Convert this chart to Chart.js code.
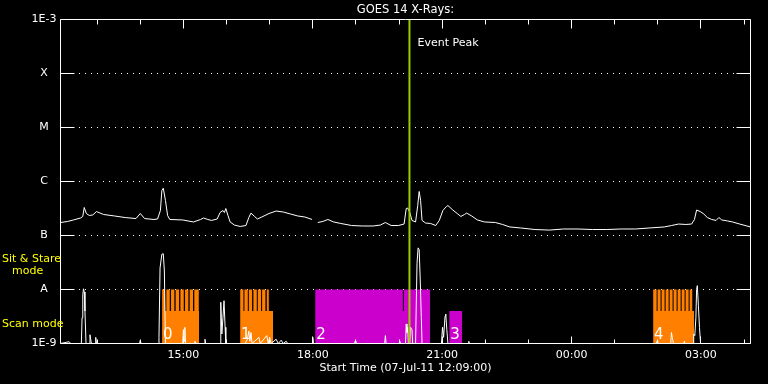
<!DOCTYPE html>
<html><head><meta charset="utf-8">
<script src="https://cdn.jsdelivr.net/npm/chart.js@4.4.1/dist/chart.umd.min.js"></script>
<style>html,body{margin:0;padding:0;background:#000;overflow:hidden}canvas{display:block}</style>
</head><body>
<canvas id="c" width="768" height="384"></canvas>
<script>
// ---- data (time in minutes after start 07-Jul-11 12:09:00, flux in W/m^2) ----
const startClock = 12 * 60 + 9;
const spanMinutes = 960;
const yTickValues = [1e-9, 1e-8, 1e-7, 1e-6, 1e-5, 1e-4, 1e-3];
const yTickLabels = ['1E-9', 'A', 'B', 'C', 'M', 'X', '1E-3'];
const xLabelMinutes = [171, 351, 531, 711, 891];
const eventPeakT = 485.5;

const goesT = [0,10,18,28,31,33,36,40,45,50,55,60,75,90,105,111,117,130,135,139,141,143,146,149,152,170,185,195,199,205,210,218,222,226,228,230,233,236,242,250,258,262,265,270,274,280,290,300,310,320,330,340,350,354,358,365,372,380,390,405,420,435,445,452,460,470,478,481,483,486,489,494,497,499,501,503,508,515,522,527,532,537,539,545,552,557,562,565,572,580,590,605,615,625,640,660,680,700,720,740,760,780,800,820,840,850,860,870,878,882,885,890,895,900,906,912,916,920,928,935,945,955,960];
const goesFlux = [1.74e-7,1.82e-7,1.94e-7,2.11e-7,2.25e-7,3.3e-7,2.55e-7,2.35e-7,2.4e-7,2.78e-7,2.6e-7,2.45e-7,2.3e-7,2.15e-7,2.06e-7,2.55e-7,2.06e-7,1.98e-7,2.02e-7,2.9e-7,6.8e-7,7.5e-7,4.45e-7,2.35e-7,1.98e-7,1.94e-7,1.78e-7,1.98e-7,2.11e-7,1.98e-7,1.9e-7,2.02e-7,2.66e-7,2.9e-7,2.66e-7,3.16e-7,2.35e-7,1.78e-7,1.56e-7,1.47e-7,1.53e-7,2.15e-7,2.6e-7,2.25e-7,2.02e-7,2.2e-7,2.55e-7,2.84e-7,2.72e-7,2.5e-7,2.3e-7,2.2e-7,1.98e-7,null,1.74e-7,1.82e-7,1.98e-7,1.78e-7,1.67e-7,1.53e-7,1.5e-7,1.5e-7,1.56e-7,1.74e-7,1.53e-7,1.53e-7,1.63e-7,3.16e-7,3.23e-7,2.66e-7,1.9e-7,1.78e-7,3.59e-7,6.53e-7,4.45e-7,1.9e-7,1.7e-7,1.67e-7,1.53e-7,1.9e-7,2.9e-7,3.45e-7,3.59e-7,3.03e-7,2.55e-7,2.25e-7,2.45e-7,2.6e-7,2.3e-7,1.94e-7,1.78e-7,1.74e-7,1.6e-7,1.44e-7,1.38e-7,1.29e-7,1.26e-7,1.32e-7,1.32e-7,1.29e-7,1.29e-7,1.32e-7,1.32e-7,1.38e-7,1.44e-7,1.53e-7,1.63e-7,1.6e-7,1.63e-7,1.98e-7,2.96e-7,2.78e-7,2.5e-7,2.15e-7,1.98e-7,1.9e-7,2.15e-7,1.94e-7,1.86e-7,1.78e-7,1.63e-7,1.5e-7,1.44e-7];

const lowT = [0,12,14,29,30,31,32,33,34,35.5,40,41,42,43,48,49,50,110,111,112,136,137,138.5,141,143,144.5,146,170,171,172,173,174,186,187,188,200,201,202,222,223,224.5,226,227.5,229,230,257,260,262,263.5,265,266.5,276,278,287,289,291,293,300,303,307,310,314,316,350,351,352,409,410,411,451,452,453,471,472,473,480,481,482,483,484,486,487,489,490,494,496,497.5,499,500.5,502,503,530,531.5,533,535,536,537.5,539,567,568,569,829,830,831,849,850,851.5,853,867,868,869,880,881,882.5,884,885,886,887.5,889,890.5,960];
const lowFlux = [1e-9,1.08e-9,1e-9,1e-9,3e-9,8e-9,1.03e-8,9e-9,4e-9,1e-9,1e-9,1.45e-9,1.2e-9,1e-9,1e-9,1.3e-9,1e-9,1e-9,1.15e-9,1e-9,1e-9,1.3e-9,2.5e-8,4.5e-8,4.6e-8,2.2e-8,1e-9,1e-9,1.8e-9,1.1e-9,2e-9,1e-9,1e-9,1.1e-9,1e-9,1e-9,1.2e-9,1e-9,1e-9,5.8e-9,1.5e-9,3e-9,6.2e-9,2e-9,1e-9,1e-9,1.2e-9,1.7e-9,1.1e-9,1.6e-9,1e-9,1.3e-9,1e-9,1.4e-9,1e-9,1.3e-9,1e-9,1.2e-9,1e-9,1.15e-9,1e-9,1.1e-9,1e-9,1e-9,1.3e-9,1e-9,1e-9,1.1e-9,1e-9,1e-9,1.4e-9,1e-9,1e-9,1.1e-9,1e-9,1e-9,2.3e-9,1.6e-9,2e-9,1e-9,1e-9,2e-9,1.8e-9,1e-9,1e-9,3e-8,5.9e-8,5.5e-8,1.5e-8,3e-9,1e-9,1e-9,2e-9,1.3e-9,3.2e-9,3.5e-9,1.8e-9,1e-9,1e-9,1.1e-9,1e-9,1e-9,1.1e-9,1e-9,1e-9,1.6e-9,1.2e-9,1e-9,1e-9,1.1e-9,1e-9,1e-9,1.5e-9,1.4e-9,3e-9,1e-8,1.18e-8,5e-9,2e-9,1e-9,1e-9];

// observation blocks: [start, end] minutes, body level, raster "teeth" reaching sit&stare level
const scanLevel = 4e-9;
const stareLevel = 1e-8;
const block0Span = [141.3, 192.8];
const block0Teeth = [[141.3,145.5],[147.3,152.0],[153.8,158.4],[160.2,165.0],[166.8,171.5],[173.3,177.9],[179.7,184.4],[186.2,192.4]];
const block1Span = [249.9, 295.8];
const block1Teeth = [[249.9,254.5],[255.9,260.6],[262.0,266.6],[268.4,273.1],[274.5,279.1],[280.5,285.1],[287.0,289.8]];
const block2Span = [354.3, 514.3];
const block2Teeth = [[354.3,476.3],[477.7,514.3]];
const block3Span = [540.8, 558.9];
const block3Teeth = [];
const block4Span = [824.5, 881.4];
const block4Teeth = [[824.5,829.4],[830.7,834.9],[836.3,840.5],[841.9,846.1],[847.5,851.6],[853.0,857.2],[858.6,862.8],[864.2,868.3],[869.7,873.9],[875.3,879.0]];
const blockLabels = ['0', '1', '2', '3', '4'];

// ---- helpers ----
const toPts = (ts, vs) => ts.map((t, i) => ({x: t, y: vs[i]}));
function blockPts(span, teeth) {
  const pts = [{x: span[0], y: scanLevel}];
  teeth.forEach(([s, e]) => {
    pts.push({x: s, y: scanLevel}, {x: s, y: stareLevel}, {x: e, y: stareLevel}, {x: e, y: scanLevel});
  });
  pts.push({x: span[1], y: scanLevel});
  return pts;
}
const fmtClock = v => {
  const tot = ((startClock + Math.round(v)) % 1440 + 1440) % 1440;
  const h = Math.floor(tot / 60), m = tot % 60;
  return String(h).padStart(2, '0') + ':' + String(m).padStart(2, '0');
};

const ORANGE = '#ff8000', MAGENTA = '#cc00cc', GREEN = '#99cc00', FONT = 'DejaVu Sans';
const blockDefs = [
  [block0Span, block0Teeth, ORANGE],
  [block1Span, block1Teeth, ORANGE],
  [block2Span, block2Teeth, MAGENTA],
  [block3Span, block3Teeth, MAGENTA],
  [block4Span, block4Teeth, ORANGE]
];

const blockSets = blockDefs.map(([span, teeth, col]) => ({
  data: blockPts(span, teeth), borderColor: 'rgba(0,0,0,0)', borderWidth: 0,
  backgroundColor: col, fill: 'start', pointRadius: 0, tension: 0, order: 5
}));

const decor = {
  id: 'decor',
  beforeDraw(chart) {
    const ctx = chart.ctx; ctx.save(); ctx.fillStyle = '#000';
    ctx.fillRect(0, 0, chart.width, chart.height); ctx.restore();
  },
  afterDatasetsDraw(chart) {
    const {ctx, chartArea: a, scales} = chart;
    const xs = scales.x, ys = scales.y;
    const L = Math.floor(a.left) + 0.5, R = Math.floor(a.right) + 0.5;
    const T = Math.floor(a.top) + 0.5, B = Math.floor(a.bottom) + 0.5;
    ctx.save();
    ctx.strokeStyle = '#fff'; ctx.lineWidth = 1; ctx.setLineDash([]);
    ctx.beginPath();
    ctx.rect(L, T, R - L, B - T);
    yTickValues.forEach(v => {
      const p = Math.floor(ys.getPixelForValue(v)) + 0.5;
      ctx.moveTo(L, p); ctx.lineTo(L + 14, p);
      ctx.moveTo(R - 14, p); ctx.lineTo(R, p);
    });
    for (let m = 51; m < spanMinutes; m += 60) {
      const p = Math.floor(xs.getPixelForValue(m)) + 0.5;
      const major = xLabelMinutes.includes(m);
      const lb = major ? 7 : 4, lt = major ? 9 : 5;
      ctx.moveTo(p, B); ctx.lineTo(p, B - lb);
      ctx.moveTo(p, T); ctx.lineTo(p, T + lt);
    }
    ctx.stroke();
    ctx.restore();
  },
  afterDraw(chart) {
    const {ctx, scales} = chart;
    const xs = scales.x;
    ctx.save();
    ctx.font = '11px "' + FONT + '"';
    ctx.textBaseline = 'middle'; ctx.textAlign = 'left';
    ctx.fillStyle = '#ffff00';
    ctx.fillText('Sit & Stare', 2, 259);
    ctx.fillText('mode', 12, 271);
    ctx.fillText('Scan mode', 2, 324);
    ctx.fillStyle = '#ffffff';
    ctx.fillText('Event Peak', xs.getPixelForValue(eventPeakT) + 8, 43);
    ctx.font = '15px "' + FONT + '"';
    ctx.textBaseline = 'alphabetic';
    blockDefs.forEach(([span], i) => {
      ctx.fillText(blockLabels[i], xs.getPixelForValue(span[0]) + 1, 339);
    });
    ctx.restore();
  }
};

new Chart(document.getElementById('c'), {
  type: 'line',
  data: {
    datasets: [
      {data: [{x: eventPeakT, y: 1e-9}, {x: eventPeakT, y: 1e-3}], borderColor: GREEN, borderWidth: 2, pointRadius: 0, order: 0},
      {data: toPts(goesT, goesFlux), borderColor: '#ffffff', borderWidth: 1, pointRadius: 0, tension: 0, spanGaps: false, order: 1},
      {data: toPts(lowT, lowFlux), borderColor: '#ffffff', borderWidth: 1, pointRadius: 0, tension: 0, order: 2},
      ...blockSets
    ]
  },
  options: {
    responsive: false, animation: false, devicePixelRatio: 1,
    layout: {padding: {left: 0.5, right: 17.5, top: 0, bottom: 0}},
    plugins: {legend: {display: false}, tooltip: {enabled: false}, title: {display: false}},
    scales: {
      x: {
        type: 'linear', position: 'bottom', min: 0, max: spanMinutes,
        afterBuildTicks: s => { s.ticks = xLabelMinutes.map(v => ({value: v})); },
        afterFit: s => { s.height = 40.5; },
        grid: {display: false, drawTicks: false}, border: {display: false},
        ticks: {color: '#fff', font: {family: FONT, size: 11}, padding: 5, maxRotation: 0, autoSkip: false, callback: v => fmtClock(v)},
        title: {display: true, text: 'Start Time (07-Jul-11 12:09:00)', color: '#fff', font: {family: FONT, size: 11}, padding: {top: 0, bottom: 9}}
      },
      x2: {
        type: 'linear', position: 'top', min: 0, max: spanMinutes,
        afterFit: s => { s.height = 19.5; },
        grid: {display: false, drawTicks: false}, border: {display: false},
        ticks: {display: false},
        title: {display: true, text: 'GOES 14 X-Rays:', color: '#fff', font: {family: FONT, size: 11.5}, padding: {top: 3, bottom: 0}}
      },
      y: {
        type: 'logarithmic', min: 1e-9, max: 1e-3,
        afterBuildTicks: s => { s.ticks = yTickValues.map(v => ({value: v})); },
        afterFit: s => { s.width = 60; },
        grid: {color: '#ffffff', lineWidth: 1, drawTicks: false},
        border: {display: false, dash: [1, 5]},
        ticks: {color: '#fff', font: {family: FONT, size: 11}, padding: 4, crossAlign: 'center', autoSkip: false,
                callback: (v, i) => yTickLabels[i]}
      }
    }
  },
  plugins: [decor]
});
</script>
</body></html>
